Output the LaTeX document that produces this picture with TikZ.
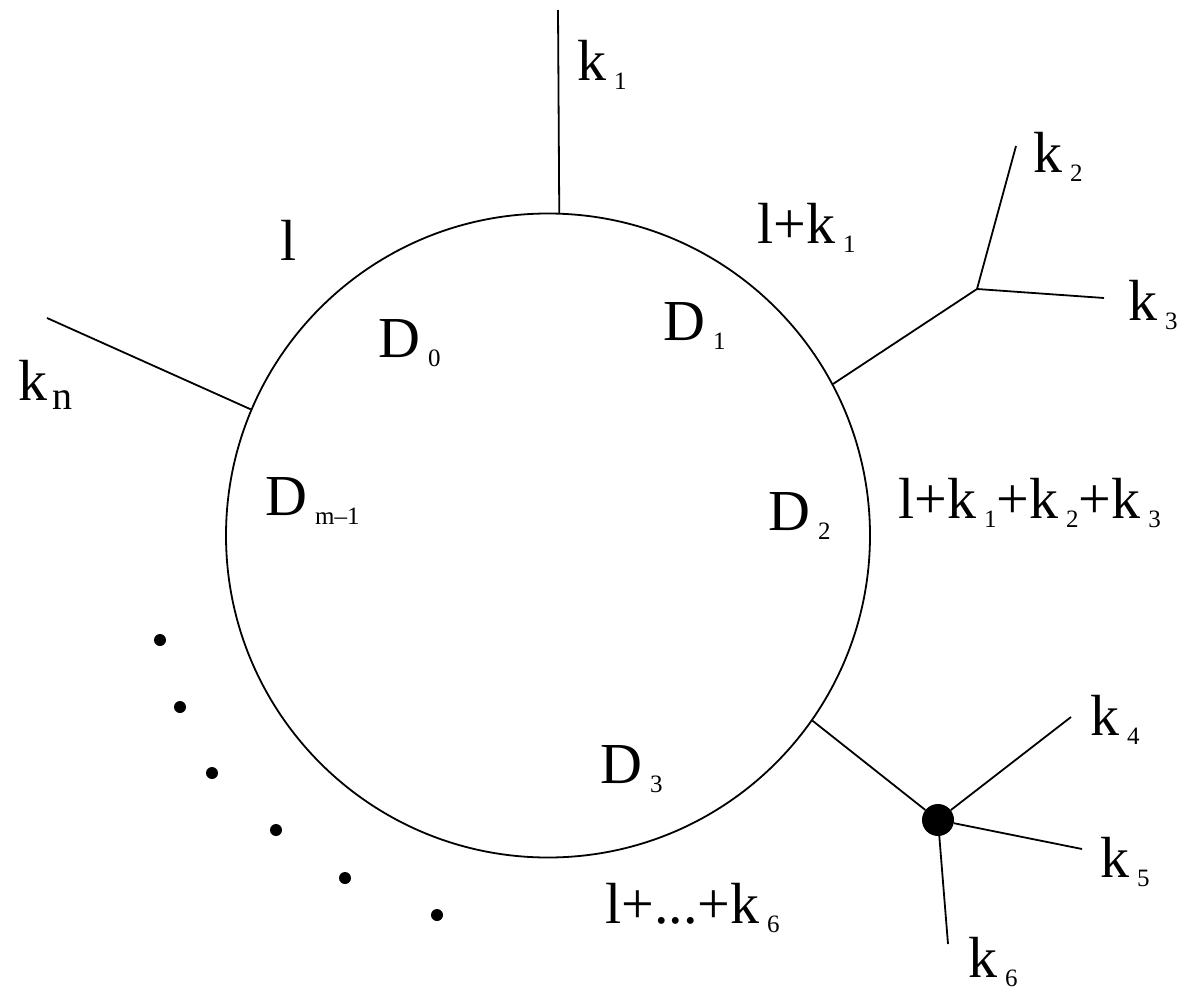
\documentclass[tikz,border=0pt]{standalone}
\usepackage{fontspec}
\setmainfont{Liberation Serif}
\newcommand\subsc[1]{\kern8pt\raisebox{-9pt}{\fontsize{25}{25}\selectfont #1}}
\tikzset{
  lbl/.style={anchor=base west, inner sep=0pt, font=\fontsize{58}{60}\selectfont},
  leg/.style={line width=1.8pt},
  dotpt/.style={circle, fill=black, inner sep=0pt, minimum size=12pt},
}
\begin{document}
\begin{tikzpicture}[x=1pt,y=-1pt]
\useasboundingbox (0,0) rectangle (1184,993);
\node[draw, circle, line width=1.8pt, minimum size=644pt, inner sep=0pt] (loop) at (548,535.5) {};
% external legs
\coordinate (t1) at (558,10);
\draw[leg] (loop.88.2) -- (t1);
\coordinate (tn) at (47,318);
\draw[leg] (loop.157) -- (tn);
\coordinate (v23) at (977,289);
\coordinate (t2) at (1016,146);
\coordinate (t3) at (1104,298);
\draw[leg] (loop.28.4) -- (v23);
\draw[leg] (v23) -- (t2);
\draw[leg] (v23) -- (t3);
\node[circle, fill=black, inner sep=0pt, minimum size=32pt] (blob) at (938,820) {};
\coordinate (t4) at (1071,717);
\coordinate (t5) at (1082,849);
\coordinate (t6) at (948,944);
\draw[leg] (loop.-35.6) -- (blob);
\draw[leg] (blob) -- (t4);
\draw[leg] (blob) -- (t5);
\draw[leg] (blob) -- (t6);
% labels
\node[lbl] (k1) at (577,80) {k\subsc{1}};
\node[lbl] (l0) at (280,260) {l};
\node[lbl] (lk1) at (757,243) {l+k\subsc{1}};
\node[lbl] (kn) at (18,400) {k\kern5pt\raisebox{-9pt}{\fontsize{40}{40}\selectfont n}};
\node[lbl] (k2) at (1033,172) {k\subsc{2}};
\node[lbl] (k3) at (1128,320) {k\subsc{3}};
\node[lbl] (D0) at (378,357) {D\subsc{0}};
\node[lbl] (D1) at (663,340) {D\subsc{1}};
\node[lbl] (Dm) at (265,515) {D\subsc{m–1}};
\node[lbl] (D2) at (768,530) {D\subsc{2}};
\node[lbl] (lk123) at (898,518) {l+k\subsc{1}+k\subsc{2}+k\subsc{3}};
\node[lbl] (D3) at (600,783) {D\subsc{3}};
\node[lbl] (k4) at (1090,735) {k\subsc{4}};
\node[lbl] (k5) at (1100,877) {k\subsc{5}};
\node[lbl] (k6) at (968,977) {k\subsc{6}};
\node[lbl] (lk6) at (605,923) {l+...+k\subsc{6}};
% dots
\node[dotpt] (d1) at (160,640) {};
\node[dotpt] (d2) at (180,707) {};
\node[dotpt] (d3) at (212,773) {};
\node[dotpt] (d4) at (276,830) {};
\node[dotpt] (d5) at (345,878) {};
\node[dotpt] (d6) at (437,915) {};
\end{tikzpicture}
\end{document}
